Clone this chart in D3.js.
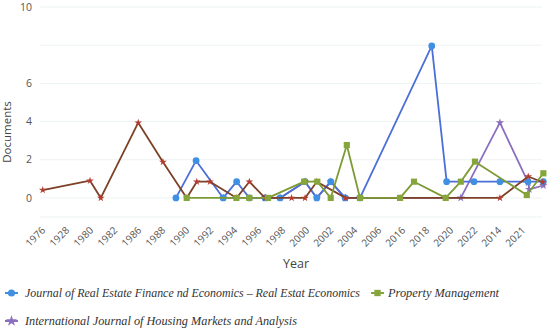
<!DOCTYPE html>
<html>
<head>
<meta charset="utf-8">
<script src="https://cdn.jsdelivr.net/npm/d3@7"></script>
<style>
  body { margin: 0; background: #fff; }
  svg text { font-family: "Open Sans", "DejaVu Sans", sans-serif; }
  svg text.legend { font-family: "Liberation Serif", "DejaVu Serif", serif; font-style: italic; }
</style>
</head>
<body>
<svg id="chart" width="550" height="330"></svg>
<script>
// Tick labels along the x axis (one every label slot)
const yearLabels = ["1976", "1928", "1980", "1982", "1986", "1988", "1990", "1992", "1994", "1996",
  "1998", "2000", "2002", "2004", "2006", "2016", "2018", "2020", "2022", "2014", "2021"];
const yLabelTicks = [10, 6, 4, 2, 0];
const yGridTicks = [10, 8, 6, 4, 2, 0, -1];

// [position in label slots, documents]
const blueSeries = [[5.58, 0], [6.42, 1.95], [7.55, 0], [8.11, 0.85], [8.64, 0], [9.30, 0], [9.92, 0],
  [10.96, 0.85], [11.45, 0], [12.03, 0.85], [12.63, 0], [13.25, 0], [16.24, 7.96], [16.86, 0.85],
  [18.0, 0.85], [19.08, 0.85], [20.25, 0.85], [20.89, 0.85]];
const greenSeries = [[6.03, 0], [8.10, 0], [8.64, 0], [9.42, 0], [10.92, 0.85], [11.47, 0.85], [12.03, 0],
  [12.70, 2.77], [13.25, 0], [14.92, 0], [15.5, 0.85], [16.82, 0], [17.45, 0.85], [18.04, 1.9],
  [20.2, 0.15], [20.89, 1.29]];
const purpleSeries = [[7.55, 0], [9.30, 0], [9.92, 0], [10.96, 0.85], [11.45, 0], [12.03, 0.85], [12.63, 0],
  [13.25, 0], [17.45, 0], [19.08, 3.94], [20.26, 0.8], [20.3, 0.45], [20.89, 0.65]];
const brownSeries = [[0.03, 0.41], [2.0, 0.9], [2.45, 0], [4.01, 3.94], [5.04, 1.88], [6.03, 0], [6.45, 0.85],
  [7.0, 0.85], [8.11, 0], [8.64, 0.85], [9.29, 0], [10.4, 0], [10.96, 0], [11.45, 0.85], [12.65, 0],
  [14.92, 0], [16.82, 0], [19.08, 0], [20.26, 1.12], [20.86, 0.82]];

const series = [
  { name: "International Journal of Housing Markets and Analysis", data: purpleSeries, line: "#8b6fbf", fill: "#8b6fbf", symbol: d3.symbolStar, size: 22 },
  { name: "Journal of Real Estate Finance nd Economics \u2013 Real Estat Economics", data: blueSeries, line: "#4b6fd8", fill: "#3f8fe2", symbol: d3.symbolCircle, size: 36 },
  { name: "brown", data: brownSeries, line: "#7d4127", fill: "#b33b30", symbol: d3.symbolStar, size: 18 },
  { name: "Property Management", data: greenSeries, line: "#7d9a35", fill: "#86a63b", symbol: d3.symbolSquare, size: 38 }
];

const svg = d3.select("#chart");
const x = d3.scaleLinear().domain([0, 20]).range([42, 522]);
const y = d3.scaleLinear().domain([-1, 10]).range([217, 7]);

// grid
svg.append("g").selectAll("line").data(yGridTicks).join("line")
  .attr("x1", 40).attr("x2", 542)
  .attr("y1", d => y(d)).attr("y2", d => y(d))
  .attr("stroke", "#edf3f3").attr("stroke-width", 1);

// y labels
svg.append("g").selectAll("text").data(yLabelTicks).join("text")
  .attr("x", 32).attr("y", d => y(d)).attr("dy", "0.35em")
  .attr("text-anchor", "end").attr("font-size", 10.5).attr("fill", "#555")
  .text(d => d);

svg.append("text")
  .attr("transform", "translate(11,132) rotate(-90)")
  .attr("text-anchor", "middle").attr("font-size", 11.5).attr("fill", "#444")
  .text("Documents");

// x labels
svg.append("g").selectAll("text").data(yearLabels).join("text")
  .attr("transform", (d, i) => `translate(${x(i) + 4},${231}) rotate(-45)`)
  .attr("text-anchor", "end").attr("font-size", 10).attr("fill", "#555")
  .text(d => d);

svg.append("text")
  .attr("x", 296).attr("y", 268).attr("text-anchor", "middle")
  .attr("font-size", 12.5).attr("fill", "#444")
  .text("Year");

// lines and markers
const line = d3.line().x(d => x(d[0])).y(d => y(d[1]));
series.forEach(s => {
  const g = svg.append("g");
  g.append("path").datum(s.data).attr("d", line)
    .attr("fill", "none").attr("stroke", s.line).attr("stroke-width", 1.8)
    .attr("stroke-linejoin", "round");
  g.selectAll("path.m").data(s.data).join("path").attr("class", "m")
    .attr("transform", d => `translate(${x(d[0])},${y(d[1])})`)
    .attr("d", d3.symbol().type(s.symbol).size(s.size))
    .attr("fill", s.fill);
});

// legend
const legendItems = [
  { s: series[1], x: 4, y: 293, tx: 21, w: 335 },
  { s: series[3], x: 370, y: 293, tx: 18, w: 111 },
  { s: series[0], x: 4, y: 321, tx: 21, w: 272 }
];
const lg = svg.append("g");
legendItems.forEach(it => {
  const g = lg.append("g").attr("transform", `translate(${it.x},${it.y})`);
  g.append("line").attr("x1", 1).attr("x2", 14).attr("y1", 0).attr("y2", 0)
    .attr("stroke", it.s.fill).attr("stroke-width", 2);
  g.append("path").attr("transform", "translate(7.5,0)")
    .attr("d", d3.symbol().type(it.s.symbol).size(40)).attr("fill", it.s.fill);
  g.append("text").attr("class", "legend").attr("x", it.tx).attr("y", 0).attr("dy", "0.35em")
    .attr("font-size", 12.6).attr("fill", "#333")
    .attr("textLength", it.w).attr("lengthAdjust", "spacingAndGlyphs")
    .text(it.s.name);
});
</script>
</body>
</html>
